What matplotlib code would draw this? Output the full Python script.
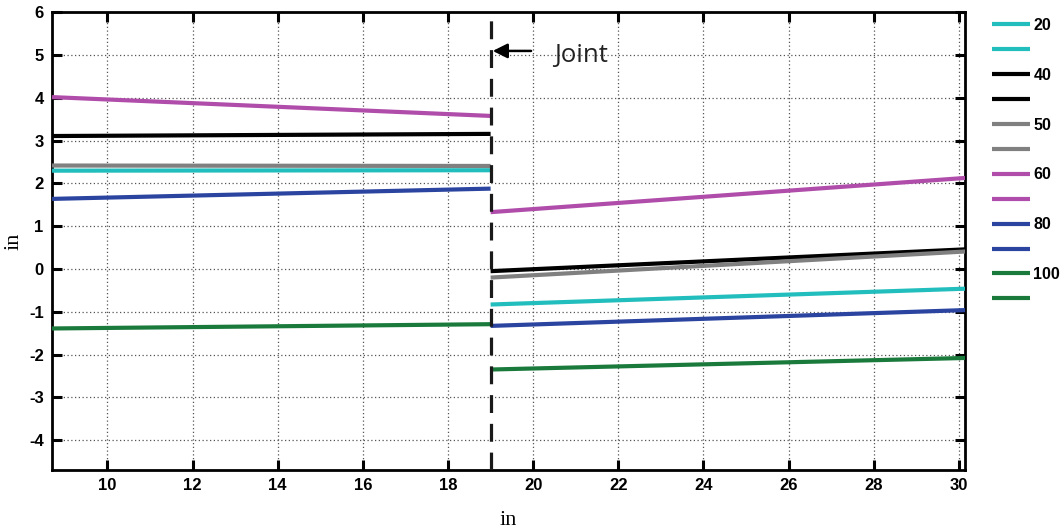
import matplotlib
matplotlib.use("Agg")
import matplotlib.pyplot as plt

# ---- data ----
series_labels = ["20", "40", "50", "60", "80", "100"]
series_colors = ["#22BDBD", "#000000", "#808080", "#B04DAA", "#2A44A0", "#1A7A3C"]
left_x = [8.7, 19.0]
right_x = [19.0, 30.15]
left_y = [
    [2.30, 2.31],   # 20
    [3.11, 3.16],   # 40
    [2.42, 2.41],   # 50
    [4.02, 3.58],   # 60
    [1.64, 1.88],   # 80
    [-1.39, -1.29], # 100
]
right_y = [
    [-0.83, -0.46],  # 20
    [-0.05, 0.46],   # 40
    [-0.20, 0.41],   # 50
    [1.33, 2.13],    # 60
    [-1.33, -0.96],  # 80
    [-2.35, -2.08],  # 100
]
joint_x = 19.0
xticks = [10, 12, 14, 16, 18, 20, 22, 24, 26, 28, 30]
yticks = [-4, -3, -2, -1, 0, 1, 2, 3, 4, 5, 6]

plt.rcParams['font.family'] = ['Liberation Sans', 'DejaVu Sans']
plt.rcParams['axes.unicode_minus'] = False

fig = plt.figure(figsize=(10.62, 5.29), dpi=100)
ax = fig.add_axes([0.049, 0.1115, 0.860, 0.865])

handles = []
labels = []
lw = 3.0
for lab, col, ly, ry in zip(series_labels, series_colors, left_y, right_y):
    h1, = ax.plot(left_x, ly, color=col, lw=lw, solid_capstyle='butt', zorder=3)
    h2, = ax.plot(right_x, ry, color=col, lw=lw, solid_capstyle='butt', zorder=3)
    handles += [h1, h2]
    labels += [lab, ""]

ax.axvline(joint_x, color='#1a1a1a', lw=2.3, dashes=(5.6, 3.4), zorder=4)

ax.annotate("", xy=(joint_x + 0.05, 5.1), xytext=(19.95, 5.1),
            arrowprops=dict(arrowstyle='-|>', color='black', lw=1.8,
                            mutation_scale=22, shrinkA=0, shrinkB=0))
ax.text(20.5, 5.0, "Joint", fontsize=18.5, family='Open Sans', color='#222222',
        va='center', ha='left')

ax.set_xlim(8.7, 30.15)
ax.set_ylim(-4.7, 6)
ax.set_xticks(xticks)
ax.set_yticks(yticks)
ax.tick_params(direction='in', length=7, width=2.2, top=True, right=True,
               labelsize=12, pad=6)
for lbl in ax.get_xticklabels() + ax.get_yticklabels():
    lbl.set_fontweight('bold')
ax.grid(True, color='#555555', linestyle=(0, (1, 2)), lw=0.9)
for s in ax.spines.values():
    s.set_linewidth(2.0)

ax.set_xlabel("in", family='Liberation Serif', fontsize=16, labelpad=13)
ax.set_ylabel("in", family='Liberation Serif', fontsize=16, labelpad=4)

leg = fig.legend(handles, labels, loc='upper left', bbox_to_anchor=(0.928, 0.978),
                 frameon=False, prop={'weight': 'bold', 'size': 11.5},
                 handlelength=2.4, handletextpad=0.2, labelspacing=0.62,
                 borderaxespad=0)

fig.savefig("out.png", dpi=100)
